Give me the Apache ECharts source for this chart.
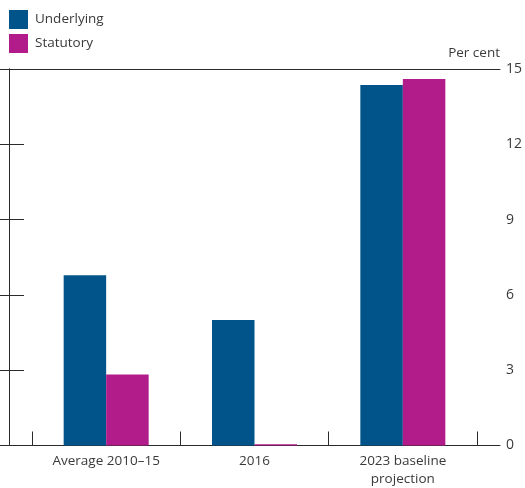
<!DOCTYPE html>
<html>
<head>
<meta charset="utf-8">
<script src="https://cdn.jsdelivr.net/npm/echarts@6/dist/echarts.min.js"></script>
<style>
  html, body { margin: 0; padding: 0; background: #fff; }
  #chart { width: 525px; height: 488px; }
</style>
</head>
<body>
<div id="chart"></div>
<script>
// Categories and values (per cent)
var categories = ['Average 2010\u201315', '2016', '2023 baseline\nprojection'];
var underlying = [6.78, 5.0, 14.36];
var statutory = [2.83, 0.05, 14.6];
var yTicks = [0, 3, 6, 9, 12, 15];

var BLUE = '#005489';
var MAGENTA = '#B21B8A';
var INK = '#2b2b2b';
var TEXT = '#3a3a3a';
var FONT = '"Open Sans", "Noto Sans", sans-serif';

var chart = echarts.init(document.getElementById('chart'), null, { renderer: 'canvas' });

// frame edges (top and bottom) drawn as bare axis lines
function frameX(pos) {
  return {
    gridIndex: 0, type: 'value', min: 0, max: 1, position: pos,
    axisLine: { show: true, onZero: false, lineStyle: { color: INK, width: 1 } },
    axisTick: { show: false }, axisLabel: { show: false }, splitLine: { show: false }
  };
}

chart.setOption({
  animation: false,
  textStyle: { fontFamily: FONT },
  title: {
    text: 'Per cent',
    right: 25,
    top: 46,
    padding: 0,
    textStyle: { fontFamily: FONT, fontSize: 13.5, fontWeight: 'normal', color: TEXT }
  },
  legend: {
    orient: 'vertical',
    left: 9,
    top: 10,
    padding: 0,
    itemWidth: 19,
    itemHeight: 19,
    itemGap: 5,
    icon: 'rect',
    textStyle: { fontFamily: FONT, fontSize: 13.5, color: TEXT, padding: [0, 0, 0, 2] },
    data: ['Underlying', 'Statutory']
  },
  grid: [
    // outer frame
    { left: 9, right: 25, top: 69, bottom: 42.5, containLabel: false, outerBoundsMode: 'none' },
    // bar area
    { left: 32, right: 48, top: 69, bottom: 42.5, containLabel: false, outerBoundsMode: 'none' }
  ],
  xAxis: [
    frameX('bottom'),
    frameX('top'),
    {
      gridIndex: 1,
      type: 'category',
      data: categories,
      axisLine: { show: false },
      axisTick: { show: true, inside: true, length: 14, lineStyle: { color: INK, width: 1 } },
      axisLabel: { fontFamily: FONT, fontSize: 13.5, color: TEXT, margin: 7, lineHeight: 18 },
      splitLine: { show: false }
    }
  ],
  yAxis: [
    {
      gridIndex: 0,
      type: 'value',
      position: 'right',
      min: 0, max: 15, interval: 3,
      axisLine: { show: true, lineStyle: { color: INK } },
      axisTick: { show: true, inside: true, length: 15, lineStyle: { color: INK } },
      axisLabel: {
        fontFamily: FONT, fontSize: 14, color: TEXT, margin: 6,
        formatter: function (v) { return yTicks.indexOf(v) >= 0 ? String(v) : ''; }
      },
      splitLine: { show: false }
    },
    {
      gridIndex: 0,
      type: 'value',
      position: 'left',
      min: 0, max: 15, interval: 3,
      axisLine: { show: true, lineStyle: { color: INK } },
      axisTick: { show: true, inside: true, length: 15, lineStyle: { color: INK } },
      axisLabel: { show: false },
      splitLine: { show: false }
    },
    {
      gridIndex: 1,
      type: 'value',
      min: 0, max: 15, interval: 3,
      show: false
    }
  ],
  series: [
    {
      name: 'Underlying',
      type: 'bar',
      xAxisIndex: 2,
      yAxisIndex: 2,
      data: underlying,
      barWidth: 42.5,
      barGap: '0%',
      itemStyle: { color: BLUE }
    },
    {
      name: 'Statutory',
      type: 'bar',
      xAxisIndex: 2,
      yAxisIndex: 2,
      data: statutory,
      barWidth: 42.5,
      barGap: '0%',
      itemStyle: { color: MAGENTA }
    }
  ]
});
</script>
</body>
</html>
